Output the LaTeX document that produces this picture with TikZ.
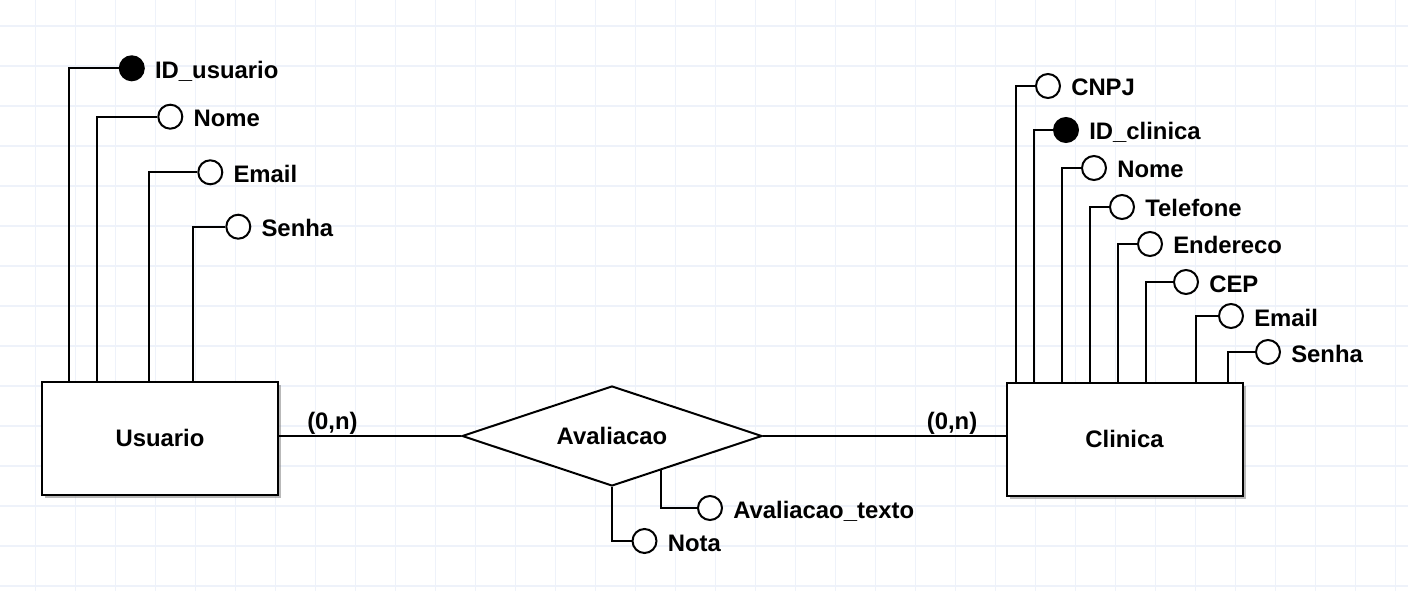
\documentclass[tikz,border=0pt]{standalone}
\usepackage{fontspec}
\setmainfont{Liberation Sans}
\usetikzlibrary{shapes.geometric,calc,shadows}

\definecolor{gridblue}{RGB}{238,242,250}

\begin{document}
\begin{tikzpicture}[x=0.75pt,y=-0.75pt,
    every node/.style={font=\fontsize{17.9}{21}\selectfont\bfseries},
    conn/.style={-,line width=1.5pt,draw=black},
    entity/.style={draw=black,line width=1.5pt,fill=white,minimum width=177pt,minimum height=84.75pt,
        drop shadow={shadow xshift=2.25pt,shadow yshift=-2.25pt,opacity=0.55}},
    relation/.style={diamond,aspect=3,draw=black,line width=1.5pt,fill=white,
        minimum width=225pt,minimum height=75pt,inner sep=0pt},
    attr/.style={shape=circle,draw=black,line width=1.5pt,fill=white,minimum size=18pt,inner sep=0pt},
    keyattr/.style={attr,fill=black},
    attrtext/.style={anchor=base west,inner sep=0pt}]

    \fill[white] (0,0) rectangle (1408,591);
    \useasboundingbox (0,0) rectangle (1408,591);
    \foreach \x in {35.5,75.5,...,1408} \draw[gridblue,line width=1pt] (\x,0) -- (\x,591);
    \foreach \y in {26,66,...,591} \draw[gridblue,line width=1pt] (0,\y) -- (1408,\y);

    % entities and relation
    \node[entity] (usu) at (160,438) {Usuario};
    \node[entity] (cli) at (1124.5,439) {Clinica};
    \node[relation] (rel) at (612,436) {Avaliacao};

    \draw[conn] (rel.west) -- (rel.west -| usu.east);
    \draw[conn] (rel.east) -- (rel.east -| cli.west);
    \node[attrtext] (card1) at ($(usu.east |- rel.west)+(28,-7)$) {(0,n)};
    \node[attrtext,anchor=base east] (card2) at ($(cli.west |- rel.east)+(-28,-7)$) {(0,n)};

    % Usuario attributes
    \node[keyattr] (uid) at (131.8,68.3) {};
    \node[attr] (unome) at (170.3,116.7) {};
    \node[attr] (uemail) at (210.3,172.3) {};
    \node[attr] (usenha) at (238.3,226.7) {};

    \node[attrtext] (tuid) at ($(uid.east)+(10,10)$) {ID\_usuario};
    \node[attrtext] (tunome) at ($(unome.east)+(10,10)$) {Nome};
    \node[attrtext] (tuemail) at ($(uemail.east)+(10,10)$) {Email};
    \node[attrtext] (tusenha) at ($(usenha.east)+(10,10)$) {Senha};

    \draw[conn] (uid.west) -| ($(usu.north west)+(28,0)$);
    \draw[conn] (unome.west) -| ($(usu.north west)+(56,0)$);
    \draw[conn] (uemail.west) -| ($(usu.north west)+(108,0)$);
    \draw[conn] (usenha.west) -| ($(usu.north west)+(152,0)$);

    % Clinica attributes
    \node[attr] (ccnpj) at (1048,86) {};
    \node[keyattr] (cid) at (1066,130) {};
    \node[attr] (cnome) at (1094,168) {};
    \node[attr] (ctel) at (1122,207) {};
    \node[attr] (cend) at (1150,244) {};
    \node[attr] (ccep) at (1186,282) {};
    \node[attr] (cemail) at (1231,316) {};
    \node[attr] (csenha) at (1268,352) {};

    \node[attrtext] (tccnpj) at ($(ccnpj.east)+(10,10)$) {CNPJ};
    \node[attrtext] (tcid) at ($(cid.east)+(10,10)$) {ID\_clinica};
    \node[attrtext] (tcnome) at ($(cnome.east)+(10,10)$) {Nome};
    \node[attrtext] (tctel) at ($(ctel.east)+(10,10)$) {Telefone};
    \node[attrtext] (tcend) at ($(cend.east)+(10,10)$) {Endereco};
    \node[attrtext] (tccep) at ($(ccep.east)+(10,10)$) {CEP};
    \node[attrtext] (tcemail) at ($(cemail.east)+(10,10)$) {Email};
    \node[attrtext] (tcsenha) at ($(csenha.east)+(10,10)$) {Senha};

    \draw[conn] (ccnpj.west) -| ($(cli.north west)+(10,0)$);
    \draw[conn] (cid.west) -| ($(cli.north west)+(28,0)$);
    \draw[conn] (cnome.west) -| ($(cli.north west)+(56,0)$);
    \draw[conn] (ctel.west) -| ($(cli.north west)+(84,0)$);
    \draw[conn] (cend.west) -| ($(cli.north west)+(112,0)$);
    \draw[conn] (ccep.west) -| ($(cli.north west)+(140,0)$);
    \draw[conn] (cemail.west) -| ($(cli.north west)+(190,0)$);
    \draw[conn] (csenha.west) -| ($(cli.north west)+(222,0)$);

    % Avaliacao attributes
    \node[attr] (anota) at (644.5,541) {};
    \node[attr] (atexto) at (710,508) {};
    \node[attrtext] (tanota) at ($(anota.east)+(10,10)$) {Nota};
    \node[attrtext] (tatexto) at ($(atexto.east)+(10,10)$) {Avaliacao\_texto};

    \draw[conn] (rel.south) |- (anota.west);
    \draw[conn] ($(rel.south)!0.327!(rel.east)$) |- (atexto.west);

\end{tikzpicture}
\end{document}
